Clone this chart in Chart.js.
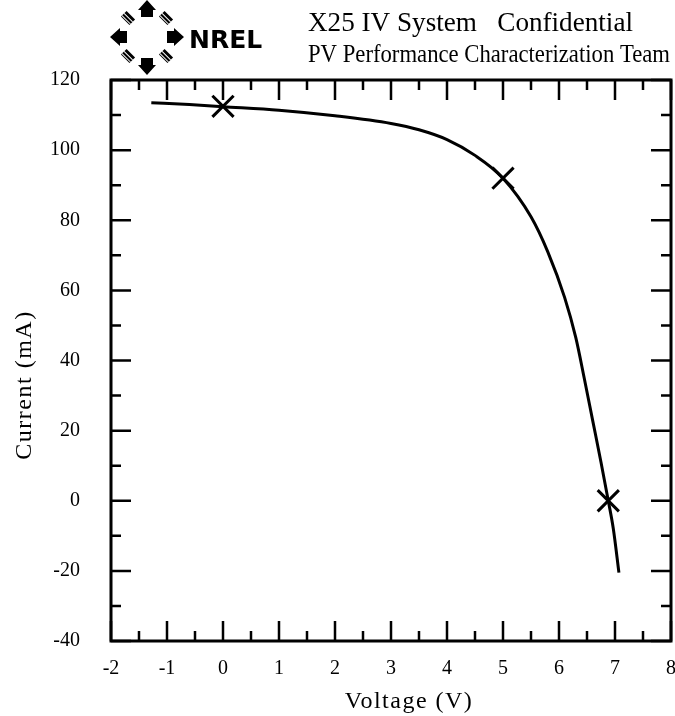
<!DOCTYPE html>
<html>
<head>
<meta charset="utf-8">
<script src="https://cdn.jsdelivr.net/npm/chart.js@4.4.0/dist/chart.umd.min.js"></script>
<style>
  html, body { margin: 0; padding: 0; background: #fff; }
  #wrap { width: 675px; height: 716px; position: relative; }
</style>
</head>
<body>
<div id="wrap"><canvas id="mycanvas" width="675" height="716"></canvas></div>
<script>
// IV curve
var voltage = [-1.28, -0.6, 0, 1, 2, 3, 3.5, 4, 4.5, 5, 5.5, 5.8, 6.1, 6.3, 6.45, 6.6, 6.75, 6.88, 6.97, 7.07];
var current = [113.5, 113.0, 112.4, 111.4, 109.8, 107.6, 105.8, 103.0, 98.5, 92.0, 81.0, 71.0, 58.0, 46.5, 35.0, 23.0, 11.0, 0.0, -8.0, -20.5];

// marked points (Isc, max power, Voc)
var markV = [0, 5, 6.88];
var markI = [112.5, 92.0, 0];

var xTicks = [-2, -1, 0, 1, 2, 3, 4, 5, 6, 7, 8];
var yTicks = [-40, -20, 0, 20, 40, 60, 80, 100, 120];

var title1 = 'X25 IV System   Confidential';
var title2 = 'PV Performance Characterization Team';
var xTitle = 'Voltage (V)';
var yTitle = 'Current (mA)';

var curve = [];
for (var i = 0; i < voltage.length; i++) curve.push({x: voltage[i], y: current[i]});
var marks = [];
for (var j = 0; j < markV.length; j++) marks.push({x: markV[j], y: markI[j]});

var serif = '"Liberation Serif", "DejaVu Serif", serif';

// frame, inward ticks, titles, header
var framePlugin = {
  id: 'frame',
  afterDraw: function(chart) {
    var ctx = chart.ctx, a = chart.chartArea;
    var xs = chart.scales.x, ys = chart.scales.y;
    ctx.save();
    ctx.strokeStyle = '#000';
    ctx.lineWidth = 3;
    ctx.strokeRect(a.left, a.top, a.right - a.left, a.bottom - a.top);
    ctx.lineWidth = 2.5;
    ctx.beginPath();
    for (var v = -2; v <= 8; v += 0.5) {
      var px = xs.getPixelForValue(v);
      var len = (v % 1 === 0) ? 20 : 10;
      ctx.moveTo(px, a.bottom); ctx.lineTo(px, a.bottom - len);
      ctx.moveTo(px, a.top); ctx.lineTo(px, a.top + len);
    }
    for (var w = -40; w <= 120; w += 10) {
      var py = ys.getPixelForValue(w);
      var l2 = (w % 20 === 0) ? 20 : 10;
      ctx.moveTo(a.left, py); ctx.lineTo(a.left + l2, py);
      ctx.moveTo(a.right, py); ctx.lineTo(a.right - l2, py);
    }
    ctx.stroke();

    ctx.fillStyle = '#000';
    ctx.textBaseline = 'alphabetic';

    // axis titles
    ctx.letterSpacing = '1.5px';
    ctx.textAlign = 'center';
    ctx.font = '24px ' + serif;
    ctx.fillText(xTitle, 409, 708);
    ctx.save();
    ctx.translate(31, 385);
    ctx.rotate(-Math.PI / 2);
    ctx.fillText(yTitle, 0, 0);
    ctx.restore();
    ctx.letterSpacing = '0px';

    // header text
    ctx.textAlign = 'left';
    ctx.font = '28px ' + serif;
    ctx.fillText(title1, 308, 31, 325);
    ctx.font = '26px ' + serif;
    ctx.fillText(title2, 308, 62, 362);

    // rough NREL logo
    var cx = 147, cy = 37;
    ctx.beginPath();
    ctx.moveTo(cx, cy - 37); ctx.lineTo(cx - 9, cy - 27); ctx.lineTo(cx + 9, cy - 27); ctx.closePath();
    ctx.moveTo(cx, cy + 38); ctx.lineTo(cx - 9, cy + 28); ctx.lineTo(cx + 9, cy + 28); ctx.closePath();
    ctx.moveTo(cx - 37, cy); ctx.lineTo(cx - 27, cy - 9); ctx.lineTo(cx - 27, cy + 9); ctx.closePath();
    ctx.moveTo(cx + 37, cy); ctx.lineTo(cx + 27, cy - 9); ctx.lineTo(cx + 27, cy + 9); ctx.closePath();
    ctx.fill();
    ctx.fillRect(cx - 6, cy - 27, 12, 7);
    ctx.fillRect(cx - 6, cy + 21, 12, 7);
    ctx.fillRect(cx - 27, cy - 6, 7, 12);
    ctx.fillRect(cx + 20, cy - 6, 7, 12);
    var d = [[-1, -1], [1, -1], [-1, 1], [1, 1]];
    for (var k = 0; k < 4; k++) {
      ctx.save();
      ctx.translate(cx + d[k][0] * 19, cy + d[k][1] * 19);
      ctx.rotate(Math.PI / 4);
      ctx.fillRect(-6, -4, 12, 8);
      ctx.fillStyle = '#fff';
      ctx.fillRect(-6, -1, 12, 1);
      ctx.fillRect(-6, 2, 12, 1);
      ctx.restore();
    }
    ctx.font = 'bold 25px "DejaVu Sans", sans-serif';
    ctx.fillText('NREL', 189, 48, 88);
    ctx.restore();
  }
};

var ctx = document.getElementById('mycanvas');

var chart = new Chart(ctx, {
  type: 'scatter',
  data: {
    datasets: [
      {
        label: 'IV',
        data: curve,
        showLine: true,
        borderColor: '#000',
        borderWidth: 3,
        pointRadius: 0,
        cubicInterpolationMode: 'monotone',
        fill: false
      },
      {
        label: 'points',
        data: marks,
        showLine: false,
        pointStyle: 'crossRot',
        pointRadius: 15,
        pointBorderWidth: 3,
        borderColor: '#000',
        backgroundColor: '#000'
      }
    ]
  },
  options: {
    responsive: false,
    animation: false,
    layout: { autoPadding: false, padding: { top: 80, right: 4, left: 0, bottom: 0 } },
    plugins: { legend: { display: false }, tooltip: { enabled: false } },
    scales: {
      x: {
        type: 'linear',
        min: -2, max: 8,
        grid: { display: false },
        border: { display: false },
        afterBuildTicks: function(s) { s.ticks = xTicks.map(function(v) { return {value: v}; }); },
        afterFit: function(s) { s.height = 75; s.paddingLeft = 0; s.paddingRight = 0; },
        ticks: { color: '#000', font: { family: serif, size: 20 }, padding: 8, maxRotation: 0 }
      },
      y: {
        type: 'linear',
        min: -40, max: 120,
        grid: { display: false },
        border: { display: false },
        afterBuildTicks: function(s) { s.ticks = yTicks.map(function(v) { return {value: v}; }); },
        afterFit: function(s) { s.width = 111; s.paddingTop = 0; s.paddingBottom = 0; },
        ticks: { color: '#000', font: { family: serif, size: 20 }, padding: 23 }
      }
    }
  },
  plugins: [framePlugin]
});
</script>
</body>
</html>
